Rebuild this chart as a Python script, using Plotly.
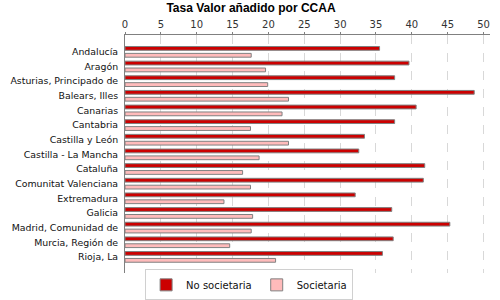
import plotly.graph_objects as go

categorias = [
    "Andalucía",
    "Aragón",
    "Asturias, Principado de",
    "Balears, Illes",
    "Canarias",
    "Cantabria",
    "Castilla y León",
    "Castilla - La Mancha",
    "Cataluña",
    "Comunitat Valenciana",
    "Extremadura",
    "Galicia",
    "Madrid, Comunidad de",
    "Murcia, Región de",
    "Rioja, La",
]
no_societaria = [35.5, 39.6, 37.6, 48.7, 40.6, 37.6, 33.4, 32.6, 41.8, 41.6, 32.1, 37.2, 45.3, 37.4, 35.9]
societaria = [17.6, 19.6, 19.9, 22.8, 21.9, 17.5, 22.8, 18.7, 16.4, 17.5, 13.8, 17.8, 17.6, 14.6, 21.0]
x_ticks = [0, 5, 10, 15, 20, 25, 30, 35, 40, 45, 50]

FONT = "DejaVu Sans"

fig = go.Figure()
fig.add_trace(
    go.Bar(
        y=categorias,
        x=no_societaria,
        orientation="h",
        name="No societaria",
        marker=dict(color="#cc0000", line=dict(color="#808080", width=1)),
    )
)
fig.add_trace(
    go.Bar(
        y=categorias,
        x=societaria,
        orientation="h",
        name="Societaria",
        marker=dict(color="#ffbbbb", line=dict(color="#808080", width=1)),
    )
)

n = len(categorias)
fig.update_layout(
    width=500,
    height=300,
    barmode="group",
    bargap=0.06,
    bargroupgap=0.45,
    paper_bgcolor="white",
    plot_bgcolor="white",
    margin=dict(l=125, r=10, t=35, b=27, autoexpand=False),
    font=dict(family=FONT, size=10, color="#333333"),
    title=dict(
        text="<b>Tasa Valor añadido por CCAA</b>",
        font=dict(family="Liberation Sans", size=12, color="black"),
        x=0.502,
        xref="container",
        xanchor="center",
        y=0.974,
        yref="container",
        yanchor="middle",
    ),
    xaxis=dict(
        side="top",
        range=[0, 50.9],
        tickvals=x_ticks,
        showgrid=True,
        gridcolor="#d8d8d8",
        griddash="dash",
        gridwidth=1,
        showline=True,
        linecolor="#808080",
        linewidth=1,
        ticks="outside",
        ticklen=2,
        tickcolor="#808080",
        zeroline=False,
        automargin=False,
        tickfont=dict(family=FONT, size=10, color="#333333"),
    ),
    yaxis=dict(
        type="category",
        range=[n - 0.5 + 0.6, -0.5 - 0.65],
        showline=True,
        linecolor="#808080",
        linewidth=1,
        showgrid=False,
        ticks="",
        automargin=False,
        ticklabelstandoff=4,
        tickfont=dict(family=FONT, size=9.4, color="#111111"),
    ),
    legend=dict(
        orientation="h",
        xref="paper",
        yref="paper",
        x=0.34,
        xanchor="center",
        y=-0.115,
        yanchor="bottom",
        bordercolor="#d0d0d0",
        borderwidth=1,
        font=dict(family=FONT, size=10, color="#111111"),
        itemwidth=30,
        traceorder="normal",
    ),
)

# the page body has a default 8px margin, remove it so the chart fills the window
fig.write_html(
    "out.html",
    config={"displayModeBar": False},
    post_script="document.body.style.margin='0';",
)
